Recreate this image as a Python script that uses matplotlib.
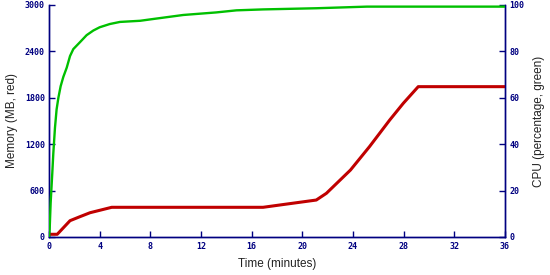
import matplotlib
matplotlib.use('Agg')
import matplotlib.pyplot as plt

# memory (MB) over time
mem_t = [0, 0.65, 1.66, 2.4, 3.24, 4.0, 4.95, 10, 16.9, 18.5, 19.8, 21.1, 21.9, 23.8, 25.3, 26.9, 27.97, 29.15, 36]
mem_mb = [35, 35, 211, 260, 314, 345, 384, 384, 384, 420, 449, 478, 565, 866, 1168, 1513, 1729, 1944, 1944]

# cpu (%) over time
cpu_t = [0, 0.05, 0.13, 0.26, 0.34, 0.47, 0.6, 0.74, 0.92, 1.13, 1.4, 1.66, 1.92, 2.45, 2.97,
         3.5, 4.0, 4.8, 5.6, 7.2, 8.0, 10.6, 13.2, 14.8, 16.9, 21.1, 25.1, 36]
cpu_pct = [0, 3, 14.7, 27.6, 36, 47, 55, 60, 65, 69, 73, 78, 81, 84, 87,
           89, 90.4, 91.8, 92.7, 93.2, 93.8, 95.7, 96.8, 97.7, 98.1, 98.6, 99.3, 99.3]

x_ticks = list(range(0, 37, 4))
mem_ticks = [0, 600, 1200, 1800, 2400, 3000]
cpu_ticks = [0, 20, 40, 60, 80, 100]

navy = '#000080'

fig = plt.figure(figsize=(5.5, 2.75), dpi=100)
ax1 = fig.add_axes([49 / 550, 1 - 237 / 275, 456 / 550, 232 / 275])
ax2 = ax1.twinx()

ax1.plot(mem_t, mem_mb, color='#c00000', lw=2.2, solid_capstyle='butt', zorder=3)
ax2.plot(cpu_t, cpu_pct, color='#00c000', lw=1.7, solid_capstyle='butt', zorder=3)

ax1.set_xlim(0, 36)
ax1.set_ylim(0, 3000)
ax2.set_ylim(0, 100)

ax1.set_xticks(x_ticks)
ax1.set_yticks(mem_ticks)
ax2.set_yticks(cpu_ticks)

for ax in (ax1, ax2):
    ax.spines['top'].set_visible(False)
    for s in ('left', 'right', 'bottom'):
        ax.spines[s].set_color(navy)
        ax.spines[s].set_linewidth(1.0)
    ax.tick_params(direction='in', length=4, width=1, color=navy, pad=3)
    for lab in ax.get_xticklabels() + ax.get_yticklabels():
        lab.set_fontfamily('DejaVu Sans Mono')
        lab.set_fontsize(6)
        lab.set_color(navy)
        lab.set_fontweight('bold')
ax1.tick_params(axis='x', pad=3.5)

ax1.set_xlabel('Time (minutes)', family='Liberation Sans', fontsize=8.5, color='#222222', labelpad=5)
ax1.set_ylabel('Memory (MB, red)', family='Liberation Sans', fontsize=8.5, color='#222222', labelpad=5)
ax2.set_ylabel('CPU (percentage, green)', family='Liberation Sans', fontsize=8.5, color='#222222', labelpad=6)

fig.savefig('out.png', dpi=100)
